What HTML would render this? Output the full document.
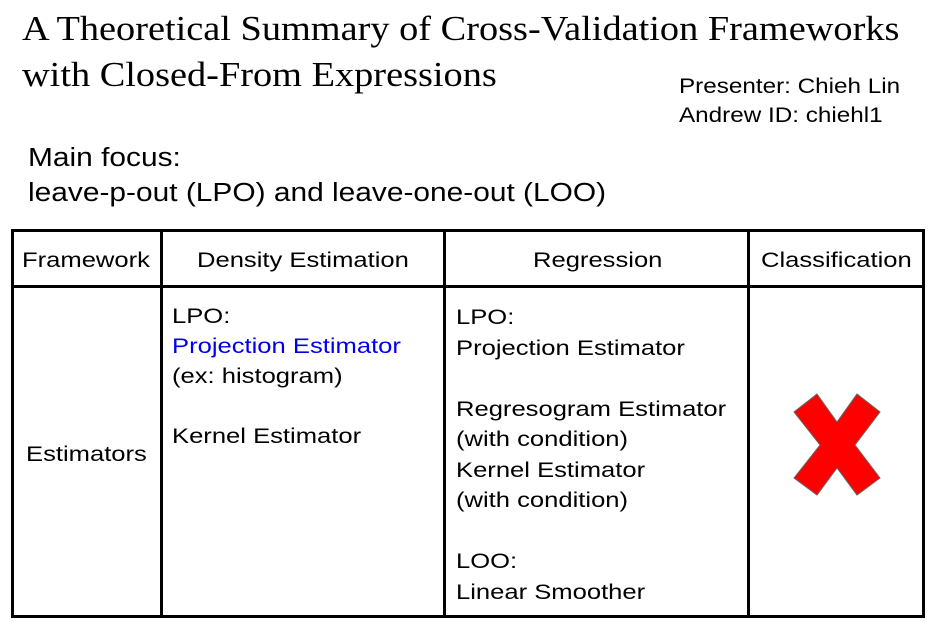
<!DOCTYPE html>
<html><head><meta charset="utf-8"><style>
body{margin:0;width:939px;height:634px;background:#fff;position:relative;overflow:hidden;font-family:"Liberation Sans",sans-serif;color:#000}
.a{position:absolute;white-space:nowrap;transform-origin:0 0}
.t{font-family:"Liberation Serif",serif;font-size:35px;line-height:46px;transform:scaleX(1.095)}
.s{font-size:21.5px;line-height:30px;transform:scaleX(1.19)}
.b{position:absolute;background:#000}
</style></head><body>
<div class="a t" style="left:22px;top:6px">A Theoretical Summary of Cross-Validation Frameworks<br>with Closed-From Expressions</div>
<div class="a" style="left:679px;top:72px;font-size:21px;line-height:29px;transform:scaleX(1.155)">Presenter: Chieh Lin<br>Andrew ID: chiehl1</div>
<div class="a" style="left:28px;top:141px;font-size:25.5px;line-height:35px;transform:scaleX(1.172)">Main focus:<br>leave-p-out (LPO) and leave-one-out (LOO)</div>
<div>
<div class="b" style="left:11px;top:229px;width:914px;height:3px"></div>
<div class="b" style="left:11px;top:285px;width:914px;height:3px"></div>
<div class="b" style="left:11px;top:615px;width:914px;height:3px"></div>
<div class="b" style="left:11px;top:229px;width:3px;height:389px"></div>
<div class="b" style="left:160px;top:229px;width:3px;height:389px"></div>
<div class="b" style="left:443px;top:229px;width:3px;height:389px"></div>
<div class="b" style="left:747px;top:229px;width:3px;height:389px"></div>
<div class="b" style="left:922px;top:229px;width:3px;height:389px"></div>
</div>
<div class="a s" style="left:22px;top:245px">Framework</div>
<div class="a s" style="left:197px;top:245px">Density Estimation</div>
<div class="a s" style="left:533px;top:245px">Regression</div>
<div class="a s" style="left:761px;top:245px">Classification</div>
<div class="a s" style="left:26px;top:439px">Estimators</div>
<div class="a s" style="left:172px;top:301px">LPO:<br><span style="color:#0000ee">Projection Estimator</span><br>(ex: histogram)<br><br>Kernel Estimator</div>
<div class="a s" style="left:456px;top:302px;line-height:30.5px">LPO:<br>Projection Estimator<br><br>Regresogram Estimator<br>(with condition)<br>Kernel Estimator<br>(with condition)<br><br>LOO:<br>Linear Smoother</div>
<svg class="a" style="left:0;top:0" width="939" height="634">
<polygon points="817,394 837,422 857,394 880,412 855,445 880,478 857,495 837,468 817,495 794,478 820,445 794,412" fill="#ff0000" stroke="#666" stroke-width="1"/>
</svg>
</body></html>
